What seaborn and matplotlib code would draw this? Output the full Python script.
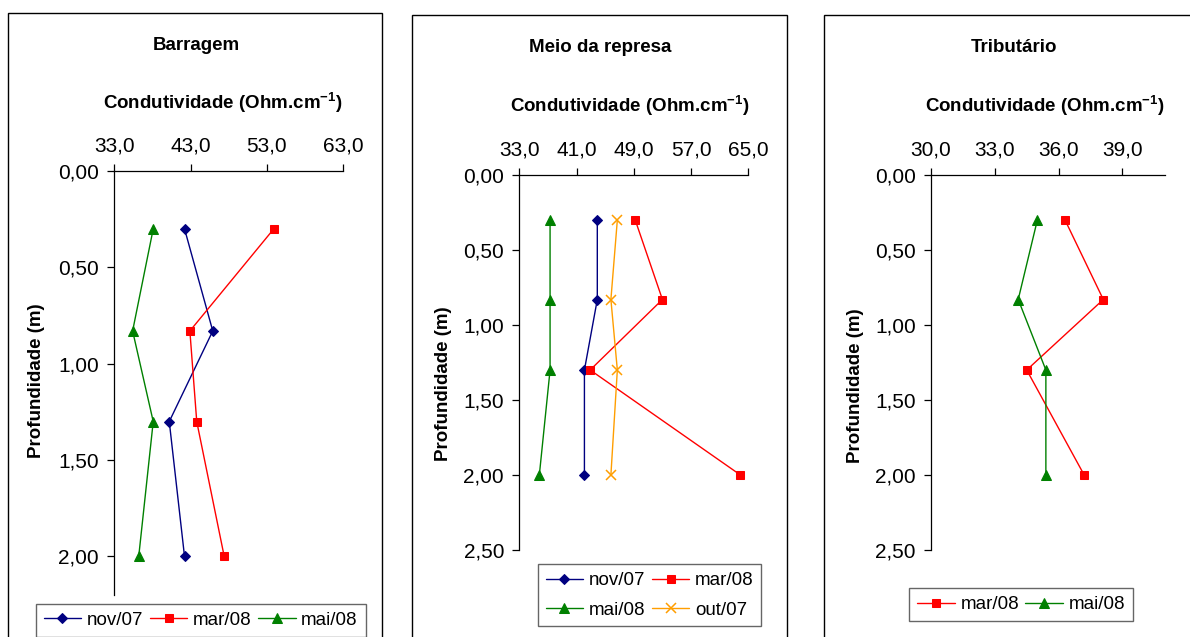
import matplotlib
matplotlib.use("Agg")
import matplotlib.pyplot as plt
from matplotlib.patches import Rectangle
from matplotlib.ticker import FuncFormatter, FixedLocator
import seaborn as sns

# Sampling depths (m)
depths = [0.30, 0.83, 1.30, 2.00]

# Conductivity profiles per sampling campaign
barragem_nov07 = [42.2, 45.9, 40.2, 42.2]
barragem_mar08 = [53.9, 42.9, 43.8, 47.4]
barragem_mai08 = [38.1, 35.4, 38.1, 36.2]

meio_nov07 = [43.9, 43.9, 42.1, 42.1]
meio_mar08 = [49.2, 53.0, 42.9, 63.9]
meio_mai08 = [37.3, 37.3, 37.3, 35.8]
meio_out07 = [46.7, 45.8, 46.7, 45.8]

trib_mar08 = [36.3, 38.1, 34.5, 37.2]
trib_mai08 = [35.0, 34.1, 35.4, 35.4]

titles = ["Barragem", "Meio da represa", "Tributário"]
x_ticks = [[33, 43, 53, 63], [33, 41, 49, 57, 65], [30, 33, 36, 39]]
x_limits = [(33, 63), (33, 65), (30, 41)]
y_ticks = [[0, 0.5, 1.0, 1.5, 2.0], [0, 0.5, 1.0, 1.5, 2.0, 2.5], [0, 0.5, 1.0, 1.5, 2.0, 2.5]]
y_limits = [(2.2, 0), (2.5, 0), (2.5, 0)]

sns.set_theme(style="ticks")
plt.rcParams["font.family"] = ["Liberation Sans", "DejaVu Sans"]
plt.rcParams["text.color"] = "black"
plt.rcParams["axes.labelcolor"] = "black"
plt.rcParams["xtick.color"] = "black"
plt.rcParams["ytick.color"] = "black"
plt.rcParams["axes.unicode_minus"] = False
plt.rcParams["mathtext.fontset"] = "custom"
plt.rcParams["mathtext.rm"] = "Liberation Sans"
plt.rcParams["mathtext.bf"] = "Liberation Sans:bold"

W, H = 1190, 637
fig = plt.figure(figsize=(W / 100, H / 100), dpi=100)
fig.patch.set_facecolor("white")


def fig_box(x0, y0, x1, y1):
    """pixel box (top-left origin) -> figure-fraction [l, b, w, h]"""
    return [x0 / W, 1 - y1 / H, (x1 - x0) / W, (y1 - y0) / H]


# panel frames
for (x0, y0, x1) in [(7.5, 12.7, 382.3), (411.7, 15.3, 786.7), (824.0, 15.3, 1230)]:
    fig.add_artist(Rectangle((x0 / W, -0.1), (x1 - x0) / W, 1 - y0 / H + 0.1,
                             transform=fig.transFigure, fill=False,
                             edgecolor="black", linewidth=1.0))

axes = [
    fig.add_axes(fig_box(114.3, 171, 343.3, 595)),
    fig.add_axes(fig_box(519.3, 175, 748.3, 550)),
    fig.add_axes(fig_box(931.0, 175, 1165.0, 550)),
]

styles = {
    "nov/07": dict(color="#000080", marker="D", markersize=5.5),
    "mar/08": dict(color="#FF0000", marker="s", markersize=6),
    "mai/08": dict(color="#008000", marker="^", markersize=7),
    "out/07": dict(color="#FF9E00", marker="x", markersize=7, markeredgewidth=1.1),
}

panel_series = [
    [("nov/07", barragem_nov07), ("mar/08", barragem_mar08), ("mai/08", barragem_mai08)],
    [("nov/07", meio_nov07), ("mar/08", meio_mar08), ("mai/08", meio_mai08), ("out/07", meio_out07)],
    [("mar/08", trib_mar08), ("mai/08", trib_mai08)],
]

num_fmt_x = FuncFormatter(lambda v, p: f"{v:.1f}".replace(".", ","))
num_fmt_y = FuncFormatter(lambda v, p: f"{v:.2f}".replace(".", ","))

for i, ax in enumerate(axes):
    for name, vals in panel_series[i]:
        st = dict(styles[name])
        c = st.pop("color")
        sns.lineplot(x=vals, y=depths, orient="y", sort=False, estimator=None,
                     color=c, linewidth=1.0, markeredgecolor=c, label=name,
                     ax=ax, **st)
    ax.set_xlim(*x_limits[i])
    ax.set_ylim(*y_limits[i])
    ax.xaxis.set_major_locator(FixedLocator(x_ticks[i]))
    ax.yaxis.set_major_locator(FixedLocator(y_ticks[i]))
    ax.xaxis.set_major_formatter(num_fmt_x)
    ax.yaxis.set_major_formatter(num_fmt_y)
    ax.xaxis.tick_top()
    ax.tick_params(axis="both", direction="out", length=5, width=0.9,
                   labelsize=15, pad=6)
    for side in ["right", "bottom"]:
        ax.spines[side].set_visible(False)
    for side in ["left", "top"]:
        ax.spines[side].set_color("black")
        ax.spines[side].set_linewidth(0.9)
    ax.set_facecolor("white")
    ax.grid(False)
    if ax.get_legend() is not None:
        ax.get_legend().remove()

# titles and axis labels
title_pos = [(196.7, 46), (600, 47), (1014, 47)]
xlabel_y = [103, 106, 106]
xlabel_x = [223.3, 630, 1045]
ylabel_pos = [(36.7, 381), (443.3, 384), (855, 386)]
for ax, t, tp, xx, xy, yp in zip(axes, titles, title_pos, xlabel_x, xlabel_y, ylabel_pos):
    fig.text(tp[0] / W, 1 - tp[1] / H, t, ha="center", va="center",
             fontsize=13.5, fontweight="bold")
    ax.set_xlabel(r"Condutividade (Ohm.cm$^{\mathbf{-1}}$)", fontsize=13.5,
                  fontweight="bold")
    ax.xaxis.set_label_position("top")
    bb = ax.get_position()
    ax.xaxis.set_label_coords((xx / W - bb.x0) / bb.width,
                              ((1 - xy / H) - bb.y0) / bb.height)
    ax.xaxis.label.set_verticalalignment("center")
    ax.set_ylabel("Profundidade (m)", fontsize=13.5, fontweight="bold")
    ax.yaxis.set_label_coords((yp[0] / W - bb.x0) / bb.width,
                              ((1 - yp[1] / H) - bb.y0) / bb.height)
    ax.yaxis.label.set_verticalalignment("center")

# legends
legend_specs = [
    (0, ["nov/07", "mar/08", "mai/08"], 3, (35.7, 604)),
    (1, ["nov/07", "mai/08", "mar/08", "out/07"], 2, (537.7, 564.3)),
    (2, ["mar/08", "mai/08"], 2, (909.3, 588.3)),
]
for idx, order, ncol, (lx, ly) in legend_specs:
    ax = axes[idx]
    handles, labels = ax.get_legend_handles_labels()
    lookup = dict(zip(labels, handles))
    leg = ax.legend([lookup[k] for k in order], order, ncol=ncol,
                    loc="upper left", bbox_to_anchor=(lx / W, 1 - ly / H),
                    bbox_transform=fig.transFigure, frameon=True, fancybox=False,
                    edgecolor="#404040", fontsize=13.5, handlelength=2.0,
                    handletextpad=0.3, columnspacing=0.35, borderpad=0.42,
                    labelspacing=0.65, borderaxespad=0)
    leg.get_frame().set_linewidth(1.0)

fig.savefig("out.png", dpi=100, facecolor="white")
